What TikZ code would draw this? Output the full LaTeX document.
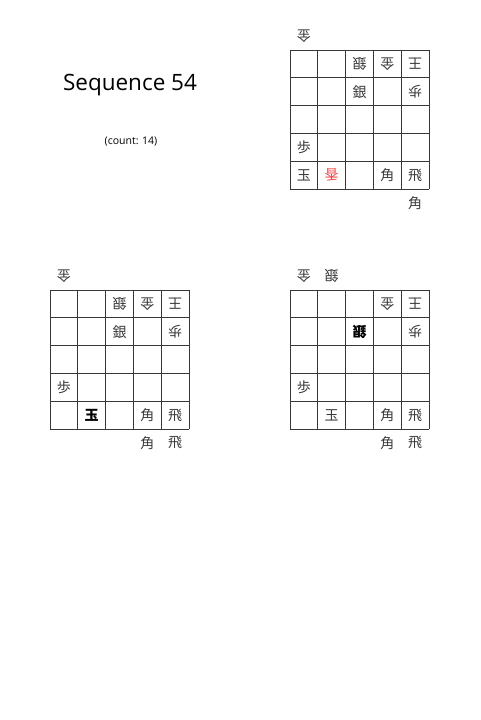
\documentclass[tikz,border=0pt]{standalone}
\usepackage{fontspec}
\setmainfont{Open Sans}
\newfontfamily\jp{Noto Sans CJK JP}
\newcommand\cellsz{27.8}
\newcommand\gridboard{%
  \foreach \k in {0,...,5} {
    \draw[gridline] ({\k*\cellsz},0) -- ({\k*\cellsz},{5*\cellsz});
    \draw[gridline] (0,{\k*\cellsz}) -- ({5*\cellsz},{\k*\cellsz});
  }}
% \pc[style]{name}{col}{row}{text}
\newcommand\pc[5][up]{\node[#1] (#2) at ({13.9+\cellsz*#3},{13.9+\cellsz*#4}) {#5};}
\begin{document}
\begin{tikzpicture}[x=1pt,y=-1pt,
  gridline/.style={draw=black!78, line width=0.8pt},
  up/.style={font=\jp\fontsize{14}{14}\selectfont, inner sep=0pt, text=black!78},
  inv/.style={up, rotate=180},
  hl/.style={up, font=\jp\bfseries\fontsize{14}{14}\selectfont, text=black},
  hlinv/.style={hl, rotate=180},
  redinv/.style={inv, text=red!75}]
\useasboundingbox (0,0) rectangle (480,720);
\node[font=\fontsize{22.5}{26}\selectfont, inner sep=0pt] (title) at (130,85) {Sequence 54};
\node[font=\fontsize{10.5}{12}\selectfont, inner sep=0pt] (count) at (131,142) {(count: 14)};
% Board 1
\begin{scope}[shift={(290,50)}]
  \gridboard
  \pc[inv]{a1}{2}{0}{銀}
  \pc[inv]{a2}{3}{0}{金}
  \pc[inv]{a3}{4}{0}{王}
  \pc{a4}{2}{1}{銀}
  \pc[inv]{a5}{4}{1}{歩}
  \pc{a6}{0}{3}{歩}
  \pc{a7}{0}{4}{玉}
  \pc[redinv]{a8}{1}{4}{香}
  \pc{a9}{3}{4}{角}
  \pc{a10}{4}{4}{飛}
  \pc[inv]{ah1}{0}{-1}{金}
  \pc{ah2}{4}{5}{角}
\end{scope}
% Board 2
\begin{scope}[shift={(50,290)}]
  \gridboard
  \pc[inv]{b1}{2}{0}{銀}
  \pc[inv]{b2}{3}{0}{金}
  \pc[inv]{b3}{4}{0}{王}
  \pc{b4}{2}{1}{銀}
  \pc[inv]{b5}{4}{1}{歩}
  \pc{b6}{0}{3}{歩}
  \pc[hl]{b7}{1}{4}{玉}
  \pc{b9}{3}{4}{角}
  \pc{b10}{4}{4}{飛}
  \pc[inv]{bh1}{0}{-1}{金}
  \pc{bh2}{3}{5}{角}
  \pc{bh3}{4}{5}{飛}
\end{scope}
% Board 3
\begin{scope}[shift={(290,290)}]
  \gridboard
  \pc[inv]{c2}{3}{0}{金}
  \pc[inv]{c3}{4}{0}{王}
  \pc[hlinv]{c4}{2}{1}{銀}
  \pc[inv]{c5}{4}{1}{歩}
  \pc{c6}{0}{3}{歩}
  \pc{c7}{1}{4}{玉}
  \pc{c9}{3}{4}{角}
  \pc{c10}{4}{4}{飛}
  \pc[inv]{ch1}{0}{-1}{金}
  \pc[inv]{ch2}{1}{-1}{銀}
  \pc{ch3}{3}{5}{角}
  \pc{ch4}{4}{5}{飛}
\end{scope}
\end{tikzpicture}
\end{document}
